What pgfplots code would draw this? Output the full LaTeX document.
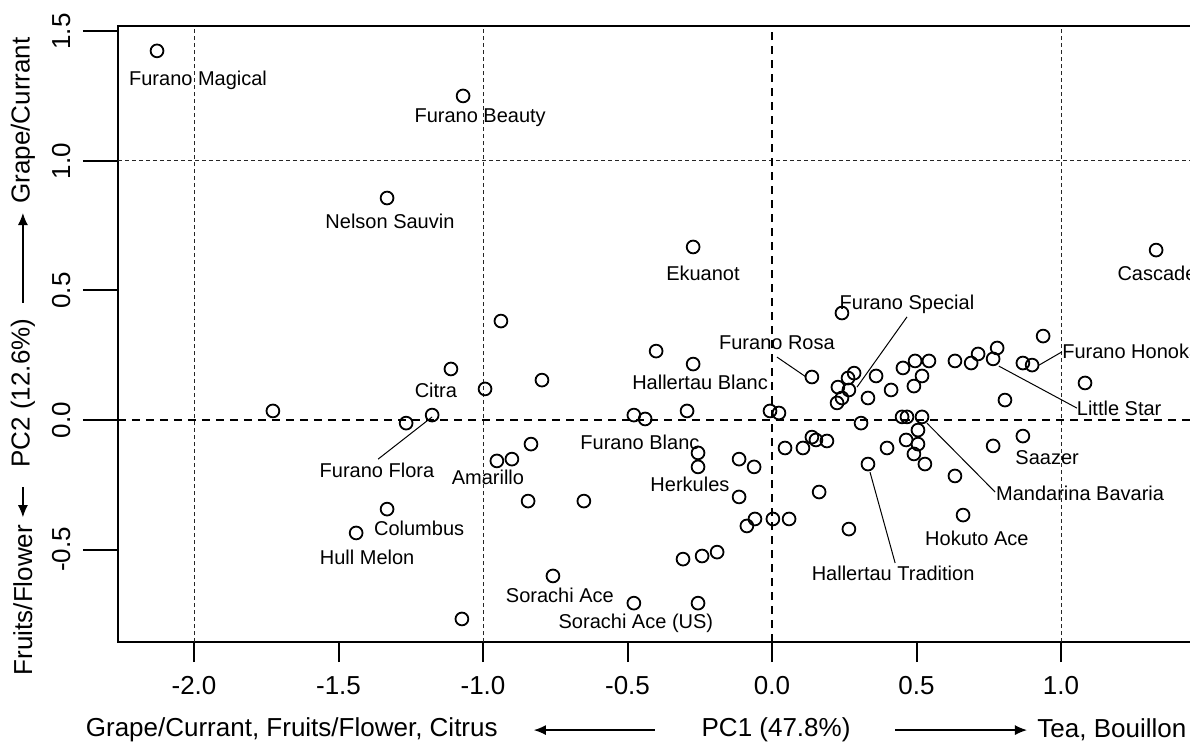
\documentclass[border=0pt]{standalone}
\usepackage{fontspec}
\setmainfont{Liberation Sans}
\usepackage{pgfplots}
\usepackage{pgfplotstable}
\pgfplotsset{compat=1.18}
\usetikzlibrary{arrows.meta}

% PCA scores of the hop varieties (PC1, PC2)
\pgfplotstableread{
x y
-2.128 1.425
-1.069 1.251
-1.332 0.857
-0.273 0.668
1.329 0.656
-0.938 0.382
-0.401 0.266
-0.273 0.216
-1.111 0.197
-0.796 0.154
-0.993 0.120
-1.727 0.035
-1.176 0.019
-1.266 -0.012
-0.478 0.019
-0.439 0.004
-0.294 0.035
-0.007 0.035
0.024 0.027
-0.834 -0.093
-0.952 -0.158
-0.900 -0.151
-0.256 -0.127
-0.256 -0.181
-0.114 -0.151
-0.062 -0.181
-0.114 -0.297
-0.844 -0.313
-0.651 -0.313
-1.332 -0.344
-1.439 -0.436
-0.059 -0.382
-0.087 -0.409
0.003 -0.382
0.059 -0.382
-0.308 -0.537
-0.242 -0.525
-0.190 -0.510
-0.758 -0.602
-0.478 -0.707
-0.256 -0.707
-1.073 -0.768
0.242 0.413
0.138 0.166
0.284 0.181
0.263 0.162
0.228 0.127
0.266 0.116
0.242 0.085
0.225 0.066
0.360 0.170
0.332 0.085
0.412 0.116
0.453 0.201
0.495 0.228
0.543 0.228
0.519 0.170
0.491 0.131
0.633 0.228
0.689 0.220
0.713 0.255
0.779 0.278
0.765 0.236
0.868 0.220
0.900 0.212
0.938 0.324
1.083 0.143
0.806 0.077
0.308 -0.012
0.450 0.012
0.467 0.012
0.519 0.012
0.505 -0.039
0.464 -0.077
0.505 -0.093
0.491 -0.131
0.529 -0.170
0.398 -0.108
0.332 -0.170
0.138 -0.066
0.152 -0.077
0.190 -0.081
0.107 -0.108
0.045 -0.108
0.163 -0.278
0.266 -0.421
0.633 -0.216
0.765 -0.100
0.868 -0.062
0.661 -0.367
}\hopscores

\newcommand\ptlabel{\fontsize{10}{12}\selectfont}
\newcommand\axlabel{\fontsize{13}{15}\selectfont}

\begin{document}
\begin{tikzpicture}
\begin{axis}[
  scale only axis,
  width=539pt, height=308pt,
  xmin=-2.263, xmax=1.467,
  ymin=-0.857, ymax=1.521,
  clip=false,
  axis line style={line width=1pt},
  xtick={-2,-1.5,-1,-0.5,0,0.5,1},
  xticklabels={-2.0,-1.5,-1.0,-0.5,0.0,0.5,1.0},
  ytick={-0.5,0,0.5,1,1.5},
  yticklabels={-0.5,0.0,0.5,1.0,1.5},
  xtick pos=left, ytick pos=left,
  tick align=outside,
  xtick style={line width=1pt, black, /pgfplots/major tick length=10pt},
  ytick style={line width=1pt, black, /pgfplots/major tick length=17.5pt},
  tick label style={font=\axlabel},
  xticklabel style={yshift=-9.5pt},
  yticklabel style={xshift=-16pt, rotate=90, anchor=south},
]
% reference lines
\draw[black!85, line width=0.5pt, dash pattern=on 2pt off 1.5pt]
  (axis cs:-2,-0.857) -- (axis cs:-2,1.521)
  (axis cs:-1,-0.857) -- (axis cs:-1,1.521)
  (axis cs:1,-0.857) -- (axis cs:1,1.521)
  (axis cs:-2.263,1) -- (axis cs:1.467,1);
\draw[black, line width=1pt, dash pattern=on 4pt off 3pt]
  (axis cs:0,-0.857) -- (axis cs:0,1.521)
  (axis cs:-2.263,0) -- (axis cs:1.467,0);

\addplot[only marks, mark=o, mark size=3.2pt, black,
  mark options={line width=0.9pt}] table[x=x, y=y] {\hopscores};

% leader lines
\draw[black, line width=0.5pt]
  (axis cs:-1.176,0.012) -- (axis cs:-1.363,-0.151)
  (axis cs:0.017,0.243) -- (axis cs:0.118,0.166)
  (axis cs:0.467,0.398) -- (axis cs:0.294,0.127)
  (axis cs:0.924,0.212) -- (axis cs:1.003,0.263)
  (axis cs:0.785,0.208) -- (axis cs:1.055,0.046)
  (axis cs:0.536,-0.012) -- (axis cs:0.772,-0.278)
  (axis cs:0.339,-0.201) -- (axis cs:0.426,-0.552);

% variety names
\begin{scope}[every node/.style={font=\ptlabel, inner sep=0pt}]
\node at (axis cs:-1.986,1.313) {Furano Magical};
\node at (axis cs:-1.010,1.166) {Furano Beauty};
\node at (axis cs:-1.322,0.768) {Nelson Sauvin};
\node at (axis cs:-0.239,0.568) {Ekuanot};
\node at (axis cs:-1.163,0.116) {Citra};
\node at (axis cs:-0.249,0.147) {Hallertau Blanc};
\node at (axis cs:0.017,0.297) {Furano Rosa};
\node at (axis cs:0.467,0.448) {Furano Special};
\node[anchor=west] at (axis cs:1.003,0.266) {Furano Honoka};
\node at (axis cs:1.201,0.046) {Little Star};
\node[anchor=west] at (axis cs:1.194,0.568) {Cascade};
\node at (axis cs:-1.367,-0.193) {Furano Flora};
\node at (axis cs:-0.983,-0.220) {Amarillo};
\node at (axis cs:-1.221,-0.417) {Columbus};
\node at (axis cs:-1.401,-0.529) {Hull Melon};
\node at (axis cs:-0.457,-0.085) {Furano Blanc};
\node at (axis cs:-0.284,-0.247) {Herkules};
\node at (axis cs:-0.734,-0.676) {Sorachi Ace};
\node at (axis cs:-0.471,-0.784) {Sorachi Ace (US)};
\node at (axis cs:0.952,-0.147) {Saazer};
\node at (axis cs:1.066,-0.282) {Mandarina Bavaria};
\node at (axis cs:0.709,-0.456) {Hokuto Ace};
\node at (axis cs:0.419,-0.591) {Hallertau Tradition};
\end{scope}

% axis titles with direction arrows
\begin{scope}[every node/.style={font=\axlabel, inner sep=0pt}]
\node[anchor=east] at (axis cs:-0.948,-1.197) {Grape/Currant, Fruits/Flower, Citrus};
\draw[-{Latex[length=6pt,width=5pt]}, line width=0.6pt] (axis cs:-0.405,-1.197) -- (axis cs:-0.824,-1.197);
\node at (axis cs:0.014,-1.197) {PC1 (47.8\%)};
\draw[-{Latex[length=6pt,width=5pt]}, line width=0.6pt] (axis cs:0.426,-1.197) -- (axis cs:0.882,-1.197);
\node[anchor=west] at (axis cs:0.917,-1.197) {Tea, Bouillon};

\node[rotate=90] at (axis cs:-2.592,1.156) {Grape/Currant};
\draw[-{Latex[length=6pt,width=5pt]}, line width=0.6pt] (axis cs:-2.592,0.452) -- (axis cs:-2.592,0.799);
\node[rotate=90] at (axis cs:-2.592,0.104) {PC2 (12.6\%)};
\draw[-{Latex[length=6pt,width=5pt]}, line width=0.6pt] (axis cs:-2.592,-0.259) -- (axis cs:-2.592,-0.375);
\node[rotate=90] at (axis cs:-2.592,-0.695) {Fruits/Flower};
\end{scope}

\coordinate (SW) at (rel axis cs:0,0);
\coordinate (NE) at (rel axis cs:1,1);
\end{axis}
\pgfresetboundingbox
\path[use as bounding box] ([xshift=-59pt,yshift=-50pt]SW) rectangle ([xshift=-3pt,yshift=13pt]NE);
\end{tikzpicture}
\end{document}
